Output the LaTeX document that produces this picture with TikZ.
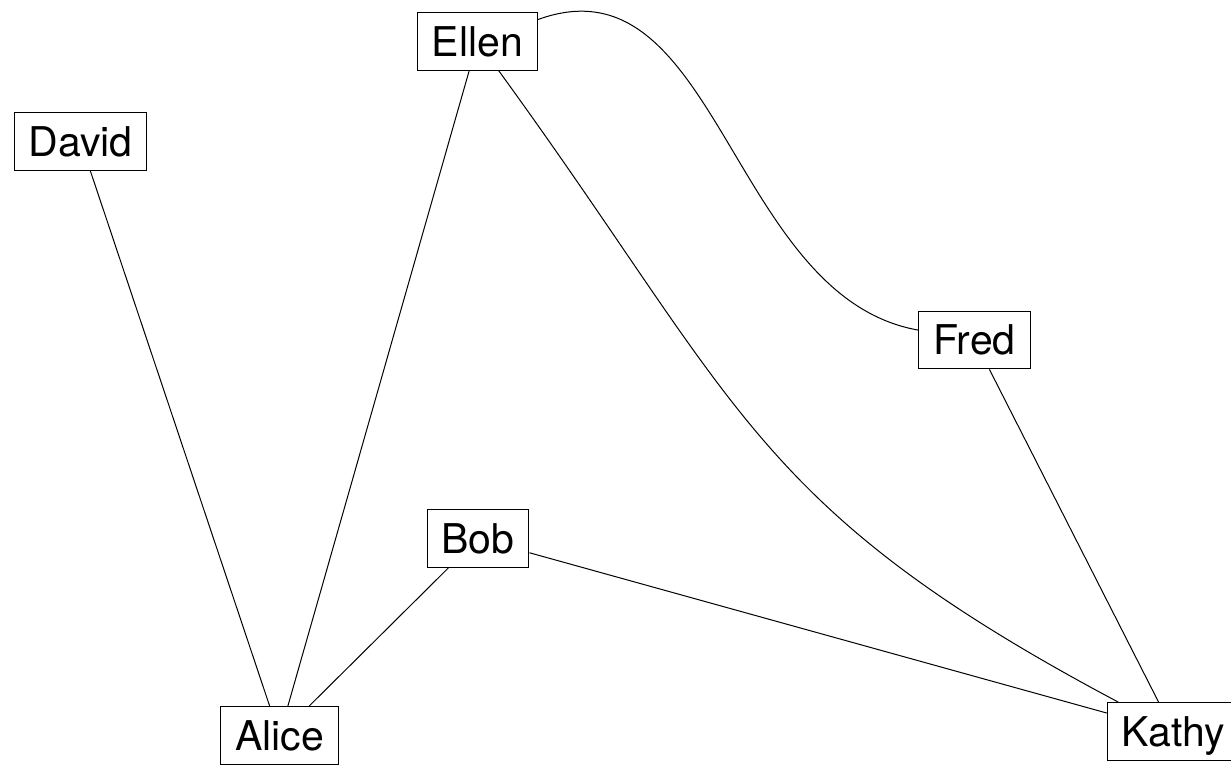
\documentclass[tikz,border=0pt]{standalone}
\usepackage{fontspec}
\setmainfont{TeX Gyre Heros}
\usepackage{tikz}

\tikzset{
  person/.style={draw, line width=0.6pt, fill=white, font=\fontsize{20.5}{24}\selectfont,
    inner xsep=7.2pt, inner ysep=7pt, text height=14.8pt, text depth=0pt},
  link/.style={line width=0.5pt}
}

\begin{document}
\begin{tikzpicture}[x=0.5pt, y=-0.5pt]

% page frame
\useasboundingbox (0,0) rectangle (1231,767);

% People
\node[person] (ellen) at (477.5, 41.5)  {Ellen};
\node[person] (david) at (80.5, 141.5)  {David};
\node[person] (fred)  at (974.5, 340)   {Fred};
\node[person] (bob)   at (478, 538.5)   {Bob};
\node[person] (alice) at (279.5, 735.5) {Alice};
\node[person] (kathy) at (1173.5, 731.5) {Kathy};

% Straight links
\draw[link] (david) -- (alice);
\draw[link] (ellen) -- (alice);
\draw[link] (bob) -- (alice);
\draw[link] (bob) -- (kathy);
\draw[link] (fred) -- (kathy);

% Curved links
\draw[link] (ellen) to[out=20, in=170] (fred);
\draw[link] (ellen) to[out=-54, in=152, looseness=1.2] (kathy);

\end{tikzpicture}
\end{document}
